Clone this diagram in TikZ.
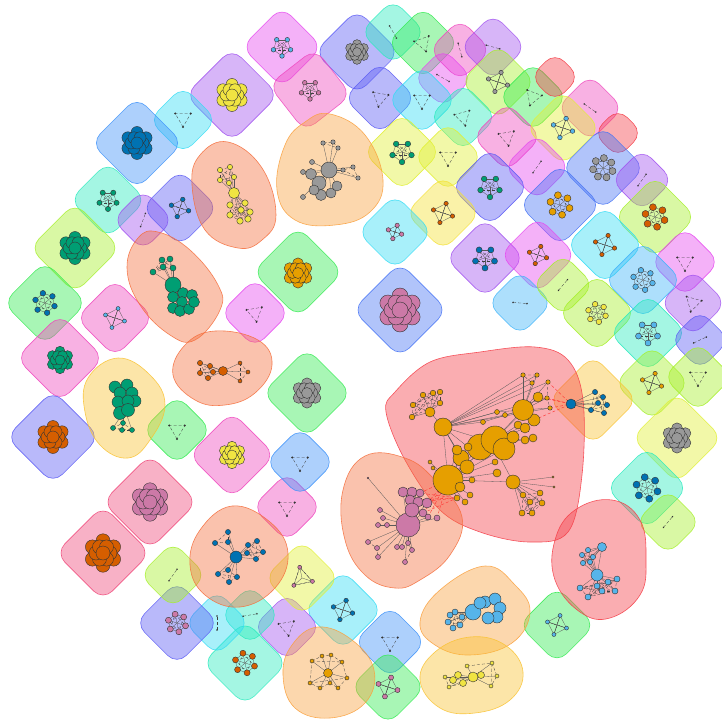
\documentclass[tikz,border=0pt]{standalone}
\usepackage{tikz}

% hull colours (saturated, drawn see-through)
\definecolor{hmag}{RGB}{230,70,240}
\definecolor{hpink}{RGB}{240,70,190}
\definecolor{hrose}{RGB}{240,70,120}
\definecolor{hpur}{RGB}{160,80,240}
\definecolor{hvio}{RGB}{90,90,245}
\definecolor{hsteel}{RGB}{70,115,245}
\definecolor{hblue}{RGB}{60,145,250}
\definecolor{hsky}{RGB}{60,180,250}
\definecolor{hcyan}{RGB}{50,220,245}
\definecolor{hteal}{RGB}{40,235,190}
\definecolor{hgreen}{RGB}{50,235,80}
\definecolor{hlime}{RGB}{165,240,40}
\definecolor{hyel}{RGB}{225,240,50}
\definecolor{hgold}{RGB}{245,225,50}
\definecolor{hamb}{RGB}{250,195,50}
\definecolor{horan}{RGB}{250,160,60}
\definecolor{hsal}{RGB}{245,110,60}
\definecolor{hred}{RGB}{245,60,70}
% vertex colours
\definecolor{cdblue}{RGB}{0,114,178}
\definecolor{cora}{RGB}{230,159,0}
\definecolor{csky}{RGB}{86,180,233}
\definecolor{cgrn}{RGB}{0,158,115}
\definecolor{cyel}{RGB}{240,228,66}
\definecolor{cver}{RGB}{213,94,0}
\definecolor{cpnk}{RGB}{204,121,167}
\definecolor{cgry}{RGB}{153,153,153}

\tikzset{
  hullbox/.style={rounded corners=13pt, fill=#1, draw=#1, fill opacity=0.42, draw opacity=0.85, line width=0.6pt, inner sep=0pt},
  hullpath/.style={fill=#1, draw=#1, fill opacity=0.42, draw opacity=0.85, line width=0.6pt},
  gvert/.style={fill=#1, draw=black!80, line width=0.4pt},
  glink/.style={black!65, line width=0.3pt},
  gedge/.style={black!75, line width=0.3pt, densely dashed},
  xedge/.style={red!80, line width=0.4pt, densely dashed},
}

% tight clump of overlapping vertices
\newcommand{\clump}[4]{%
  \begin{scope}[shift={(#1,#2)}]
    \foreach \a/\d in {30/1.75,90/1.75,150/1.75,210/1.75,270/1.75,330/1.75,0/1,60/1,120/1,180/1,240/1,300/1,0/0}
      \filldraw[gvert=#3] ({\a}:{\d*#4}) circle (#4);
  \end{scope}}
% small ring graph: x, y, colour, n, R, r
\newcommand{\gring}[6]{%
  \begin{scope}[shift={(#1,#2)}]
    \foreach \i in {1,...,#4}{
      \draw[glink] (0,0) -- ({\i*360/#4+18}:#5);
      \draw[glink] ({\i*360/#4+18}:#5) -- ({(\i+1)*360/#4+18}:#5);
      \draw[gedge] ({\i*360/#4+18}:#5) -- ({(\i+2)*360/#4+18}:#5);
    }
    \foreach \i in {1,...,#4}
      \filldraw[gvert=#3] ({\i*360/#4+18}:#5) circle (#6);
  \end{scope}}
\newcommand{\tri}[3]{%
  \begin{scope}[shift={(#1,#2)}, rotate=#3]
    \draw[gedge] (90:9) -- (210:9) -- (330:9) -- cycle;
    \foreach \a in {90,210,330} \fill[black!80] (\a:9) circle (1.1);
  \end{scope}}
\newcommand{\twig}[3]{%
  \begin{scope}[shift={(#1,#2)}, rotate=#3]
    \draw[gedge] (-7,0) -- (7,0);
    \fill[black!80] (-7,0) circle (0.9) (7,0) circle (0.9);
  \end{scope}}
\newcommand{\pts}[2]{\foreach \x/\y/\r [count=\k] in #2 \coordinate (#1\k) at (\x,\y);}
\newcommand{\verts}[2]{\foreach \x/\y/\r in #2 \filldraw[gvert=#1] (\x,\y) circle (\r);}
\newcommand{\fan}[3]{\foreach \i in {1,...,#3} \draw[glink] (#1) -- (#2\i);}
\newcommand{\mesh}[2]{\foreach \i in {1,...,#2}{\foreach \j in {\i,...,#2}{\ifnum\i<\j \draw[gedge] (#1\i) -- (#1\j);\fi}}}

\begin{document}
\begin{tikzpicture}[x=1pt,y=-1pt]
  \useasboundingbox (0,0) rectangle (721,722);
  \fill[white] (0,0) rectangle (721,722);

  % rounded square hulls
  \foreach \n/\x/\y/\sz/\col/\rot in {
    1/282/47/57/hmag/45, 2/357/52/60/hvio/45, 3/310/90/59/hpink/38, 4/232/95/66/hpur/45,
    5/183/120/48/hcyan/45, 6/137/143/65/hblue/45, 9/108/200/54/hteal/45, 10/143/220/43/hpur/45,
    11/180/208/54/hvio/45, 12/75/248/64/hlime/45, 14/298/272/64/hgreen/45, 15/45/303/59/hgreen/45,
    16/115/318/55/hpink/45, 17/255/313/49/hmag/45, 18/60/358/62/hpink/45, 19/393/32/46/hteal/45,
    20/423/43/51/hgreen/45, 21/460/50/44/hpink/45, 22/493/47/47/hpur/45, 23/443/78/42/hmag/45,
    24/380/98/51/hvio/45, 25/422/100/49/hcyan/45, 26/498/82/53/hlime/45, 27/463/117/48/hteal/45,
    28/533/97/49/hgreen/45, 29/555/77/35/hred/45, 30/590/108/47/hpink/45, 31/507/137/49/hpink/45,
    32/563/128/53/hyel/45, 33/618/133/35/hred/45, 34/402/152/55/hyel/45, 35/448/157/49/hyel/45,
    36/537/167/47/hmag/45, 37/490/187/55/hvio/45, 38/603/168/59/hsteel/45, 39/642/180/44/hpur/45,
    40/560/205/58/hsteel/45, 41/443/213/53/hgold/45, 42/655/217/58/hlime/45, 43/395/232/53/hcyan/45,
    44/485/258/56/hpur/45, 45/538/255/54/hmag/45, 46/605/245/55/hcyan/45, 47/685/262/49/hmag/45,
    48/400/310/67/hsteel/45, 49/520/303/46/hsky/45, 50/563/285/44/hlime/45, 51/597/313/55/hlime/45,
    52/643/280/55/hsky/45, 53/693/303/47/hpur/45, 54/648/333/55/hteal/45, 55/700/340/42/hvio/45,
    56/652/383/53/hlime/45, 57/698/377/49/hlime/45, 58/593/400/63/hamb/45, 59/677/438/64/hyel/45,
    60/647/488/58/hteal/45, 61/668/522/46/hlime/45, 63/557/625/54/hgreen/45, 66/390/642/51/hblue/45,
    67/388/687/53/hgreen/45, 69/343/610/56/hcyan/45, 70/287/627/48/hpur/45, 71/245/663/60/hteal/45,
    72/250/615/42/hteal/45, 73/217/623/46/hcyan/45, 74/177/623/59/hvio/45, 75/173/575/47/hlime/45,
    76/302/578/53/hyel/45, 78/103/553/67/hrose/45, 79/150/502/67/hrose/45, 80/287/507/49/hpink/45,
    81/300/462/49/hblue/45, 82/232/455/61/hpink/45, 83/177/430/49/hgreen/45, 84/53/437/66/hvio/45,
    87/307/393/63/hgreen/45}
    \node[hullbox=\col, minimum size=\sz pt, rotate=\rot] (h\n) at (\x,\y) {};

  % free-form hulls
  \draw[hullpath=hsal] plot[smooth cycle, tension=0.7] coordinates {(228,142) (262,168) (276,215) (262,240) (238,248) (205,230) (192,185) (200,155)};
  \draw[hullpath=horan] plot[smooth cycle, tension=0.7] coordinates {(330,114) (365,135) (383,180) (370,212) (335,225) (295,220) (277,190) (285,145) (305,122)};
  \draw[hullpath=hsal] plot[smooth cycle, tension=0.7] coordinates {(158,232) (190,250) (218,285) (220,310) (195,340) (170,335) (140,305) (127,268) (138,238)};
  \draw[hullpath=hamb] plot[smooth cycle, tension=0.7] coordinates {(118,358) (150,375) (165,405) (150,440) (128,458) (100,445) (85,412) (88,378)};
  \draw[hullpath=hsal] plot[smooth cycle, tension=0.7] coordinates {(215,331) (258,340) (272,365) (255,393) (225,405) (195,400) (173,375) (185,345)};
  \draw[hullpath=hsal] plot[smooth cycle, tension=0.7] coordinates {(232,506) (270,522) (288,553) (275,588) (240,607) (205,595) (190,565) (200,530)};
  \draw[hullpath=horan] plot[smooth cycle, tension=0.7] coordinates {(318,627) (352,640) (374,670) (365,703) (330,718) (295,708) (283,675) (292,645)};
  \draw[hullpath=horan] plot[smooth cycle, tension=0.7] coordinates {(485,566) (515,585) (530,612) (512,643) (470,655) (435,645) (420,622) (440,590)};
  \draw[hullpath=hamb] plot[smooth cycle, tension=0.7] coordinates {(470,637) (505,645) (523,672) (510,700) (475,713) (440,708) (420,680) (435,652)};
  \draw[hullpath=hred] plot[smooth cycle, tension=0.7] coordinates {(612,500) (640,520) (646,560) (640,595) (610,618) (580,612) (555,580) (555,540) (575,510)};
  \draw[hullpath=hred] plot[smooth cycle, tension=0.6] coordinates {(395,392) (430,362) (480,352) (535,347) (568,360) (583,400) (582,475) (568,532) (530,542) (480,532) (440,510) (405,460) (386,412)};
  \draw[hullpath=hsal] plot[smooth cycle, tension=0.7] coordinates {(365,456) (405,458) (435,480) (462,517) (450,555) (420,580) (395,588) (365,575) (345,540) (343,490)};

  % clumps, rings, triangles, pairs
  \foreach \x/\y/\col/\rr in {357/52/cgry/4.5, 232/95/cyel/6, 137/143/cdblue/6, 75/248/cgrn/6,
    298/273/cora/5.5, 60/360/cgrn/5, 400/310/cpnk/8, 677/438/cgry/5.5, 103/553/cver/7,
    150/502/cpnk/7, 232/455/cyel/5, 53/437/cver/6, 307/393/cgry/5.5}
    \clump{\x}{\y}{\col}{\rr};
  \foreach \x/\y/\col/\n/\R/\rr in {282/47/csky/5/9/2.3, 310/90/cpnk/5/9/2.3, 108/200/cgrn/5/9/2.6,
    180/208/cdblue/4/9/2.3, 45/303/cdblue/6/10/2.8, 115/318/csky/4/10/2, 498/82/cgry/4/10/2.2,
    563/128/csky/4/10/2.3, 402/152/cgrn/5/10/2.8, 490/187/cgrn/5/10/2.8, 603/168/cgry/7/10/3.5,
    560/205/cora/6/10/3.5, 443/213/cver/4/10/2.2, 655/217/cver/6/10/3.5, 395/232/cpnk/4/7/2.2,
    485/258/cdblue/5/10/3, 538/255/cver/4/9/2.2, 605/245/cver/4/10/2.2, 597/313/cyel/6/9/2.8,
    643/280/csky/6/10/2.8, 648/333/csky/5/10/3, 652/383/cora/4/10/2.2, 647/488/cdblue/6/11/3.5,
    557/625/csky/4/10/2, 388/687/cpnk/4/10/2.5, 343/610/cdblue/4/10/2.3, 245/663/cver/6/10/3,
    177/623/cpnk/6/9/3, 302/578/cpnk/3/11/2}
    \gring{\x}{\y}{\col}{\n}{\R}{\rr};
  \foreach \x/\y/\rot in {183/118/0, 255/313/10, 423/43/20, 380/98/-10, 422/100/0, 463/117/15,
    533/97/-20, 507/137/10, 448/157/0, 685/262/0, 693/303/-15, 698/377/0, 390/642/0,
    287/627/10, 287/507/0, 300/462/0, 177/430/0}
    \tri{\x}{\y}{\rot};
  \foreach \x/\y/\rot in {143/220/70, 393/32/-60, 460/50/-75, 493/47/-15, 443/78/-30, 590/108/-35,
    537/167/55, 642/180/55, 520/303/-5, 563/285/50, 700/340/25, 668/522/50, 250/615/10,
    217/623/90, 173/575/55}
    \twig{\x}{\y}{\rot};

  % yellow graph
  \def\yA{220/170/2.6, 230/167/2.6, 234/177/2.6, 220/180/2.6, 229/183/2.6}
  \def\yB{230/205/3.2, 245/203/3.2, 250/212/3.2, 230/215/3.2, 240/221/3.2, 248/219/3.2, 241/210/3.2}
  \coordinate (yh) at (234,193);
  \pts{ya}{\yA} \pts{yb}{\yB}
  \mesh{ya}{5} \mesh{yb}{7} \fan{yh}{ya}{5} \fan{yh}{yb}{7}
  \verts{cyel}{\yA} \verts{cyel}{\yB}
  \filldraw[gvert=cyel] (yh) circle (5.5);

  % grey graph
  \def\gA{319/183/7, 311/174/5.5, 321/195/5.5, 331/193/5, 337/186/5, 314/190/5}
  \def\gB{303/172/2.5, 312/162/2.5, 303/197/2.5, 323/143/2.2, 338/148/2.2, 333/142/2.2, 343/170/2.2, 358/178/2.2, 353/167/2.2}
  \coordinate (gh) at (329,170);
  \pts{ga}{\gA} \pts{gb}{\gB}
  \fan{gh}{ga}{6} \fan{gh}{gb}{9}
  \draw[gedge] (gb4) -- (gb5) -- (gb6) -- cycle;
  \draw[gedge] (gb7) -- (gb8) -- (gb9) -- cycle;
  \verts{cgry}{\gA}
  \filldraw[gvert=cgry] (gh) circle (8);
  \verts{cgry}{\gB}

  % green graph with tail
  \def\tA{153/272/3, 162/260/3, 170/259/3, 173/268/3, 163/267/3}
  \def\tB{173/297/5.5, 183/293/5.5, 192/295/5.5, 182/302/5.5, 173/308/5.5, 180/311/5.5, 189/309/5.5, 194/302/5.5}
  \coordinate (th) at (173,285);
  \pts{ta}{\tA} \pts{tb}{\tB}
  \mesh{ta}{5} \fan{th}{ta}{5} \fan{th}{tb}{8}
  \verts{cgrn}{\tA}
  \filldraw[gvert=cgrn] (th) circle (8);
  \verts{cgrn}{\tB}

  % green graph, lower left
  \def\uA{115/387/6, 127/385/6, 120/393/6, 132/393/6, 135/401/6, 118/402/6, 128/401/6, 120/413/6.5, 128/410/6.5}
  \def\uB{113/428/2.5, 122/430/2.5, 132/430/2.5, 123/423/2.5}
  \coordinate (uh) at (125,410);
  \pts{ub}{\uB}
  \mesh{ub}{4} \fan{uh}{ub}{4}
  \verts{cgrn}{\uA} \verts{cgrn}{\uB}

  % orange graph, left
  \def\rA{200/363/2.6, 210/366/2.6, 200/373/2.6, 208/378/2.6, 213/372/2.6}
  \def\rB{240/363/2, 248/372/2, 240/381/2}
  \coordinate (rh) at (223,371);
  \pts{ra}{\rA} \pts{rb}{\rB}
  \mesh{ra}{5} \mesh{rb}{3} \fan{rh}{ra}{5} \fan{rh}{rb}{3}
  \verts{cver}{\rA} \verts{cver}{\rB}
  \filldraw[gvert=cver] (rh) circle (4.5);

  % blue hub graph
  \def\wA{215/543/2.6, 228/532/2.6, 228/542/2.6}
  \def\wB{248/545/2.6, 257/541/2.6, 263/552/2.6, 256/559/2.6, 247/553/2.6}
  \def\wC{218/574/2.6, 228/570/2.6, 237/577/2.6, 229/582/2.6}
  \coordinate (wh) at (236,557);
  \pts{wa}{\wA} \pts{wb}{\wB} \pts{wc}{\wC}
  \mesh{wa}{3} \mesh{wb}{5} \mesh{wc}{4}
  \fan{wh}{wa}{3} \fan{wh}{wb}{5} \fan{wh}{wc}{4}
  \verts{cdblue}{\wA} \verts{cdblue}{\wB} \verts{cdblue}{\wC}
  \filldraw[gvert=cdblue] (wh) circle (6);

  % orange star, bottom
  \def\qA{312/661/2, 322/656/2, 331/655/2, 342/662/2, 310/683/2, 320/688/2, 330/683/2, 338/688/2, 347/678/2}
  \coordinate (qh) at (328,673);
  \pts{qa}{\qA}
  \fan{qh}{qa}{9}
  \draw[gedge] (qa1) -- (qa2) -- (qa3) -- (qa4) -- (qa9) -- (qa8) -- (qa7) -- (qa6) -- (qa5) -- cycle;
  \draw[gedge] (qa1) -- (qa4) (qa5) -- (qa9);
  \verts{cora}{\qA}
  \filldraw[gvert=cora] (qh) circle (4.5);

  % sky blue clump graph
  \def\kA{485/602/6, 495/599/6, 500/608/6, 497/617/6, 488/618/6, 480/603/6}
  \def\kB{455/612/3, 450/615/3, 448/622/3, 453/628/3, 460/625/3, 462/617/3}
  \coordinate (kh) at (473,612);
  \pts{kb}{\kB}
  \mesh{kb}{6} \fan{kh}{kb}{6}
  \verts{csky}{\kB}
  \filldraw[gvert=csky] (kh) circle (8);
  \verts{csky}{\kA}

  % yellow graph, bottom
  \def\mA{458/675/3.5, 463/683/3.5, 481/675/3.5, 453/680/3.5}
  \def\mB{445/677/2, 449/687/2, 467/666/2, 492/663/2, 497/676/2, 491/686/2}
  \coordinate (mh) at (473,677);
  \pts{ma}{\mA} \pts{mb}{\mB}
  \fan{mh}{ma}{4} \fan{mh}{mb}{6}
  \draw[gedge] (mb1) -- (mb2) -- (ma2) (mb4) -- (mb5) -- (mb6) -- cycle (mb3) -- (mb4);
  \verts{cyel}{\mA} \verts{cyel}{\mB}
  \filldraw[gvert=cyel] (mh) circle (5);

  % sky blue graph, right
  \def\nA{582/555/2.6, 588/550/2.6, 583/563/2.6, 590/562/2.6, 593/557/2.6}
  \def\nB{597/586/3, 602/591/3, 608/582/3, 615/591/3, 617/579/3, 580/588/3, 588/597/3}
  \coordinate (nh1) at (602,547);
  \coordinate (nh2) at (597,575);
  \pts{na}{\nA} \pts{nb}{\nB}
  \draw[glink] (nh1) -- (nh2);
  \mesh{na}{5} \mesh{nb}{7} \fan{nh1}{na}{5} \fan{nh2}{nb}{7} \fan{nh2}{na}{5}
  \verts{csky}{\nA} \verts{csky}{\nB}
  \filldraw[gvert=csky] (nh1) circle (4.5);
  \filldraw[gvert=csky] (nh2) circle (6);

  % blue graph joined to the big one
  \def\sA{595/392/2.6, 603/397/2.6, 598/403/2.6, 607/405/2.6, 604/413/2.6, 591/410/2.6}
  \coordinate (bhub) at (571,404);
  \pts{sa}{\sA}
  \mesh{sa}{6} \fan{bhub}{sa}{6}

  % big orange graph
  \def\oSa{461/458/8, 467/467/7, 457/450/5, 468/447/4, 460/487/5, 470/495/3, 465/502/3, 457/498/3, 472/480/3, 497/473/4, 495/462/3, 433/468/2, 430/462/2}
  \def\oSf{423/395/2.8, 433/393/2.8, 440/392/2.8, 440/403/2.8, 413/405/2.8, 412/417/2.8}
  \def\oSd{523/375/2.2, 537/375/2.2, 532/383/2.2, 548/382/2.2, 547/398/2.2, 550/408/2.2, 497/412/2.5, 505/415/2.5, 483/422/2.5}
  \def\oSm{480/447/13, 495/440/14, 504/449/11, 513/437/6, 518/425/4, 525/428/5, 525/440/4, 533/438/4, 534/420/6, 538/397/5}
  \def\oSe{523/495/3, 530/502/3, 540/493/3, 542/503/3, 522/513/3, 532/513/3, 553/477/1.2, 554/487/1.2}
  \coordinate (oa) at (448,480);
  \coordinate (ob) at (492,442);
  \coordinate (oc) at (443,427);
  \coordinate (od) at (523,410);
  \coordinate (oe) at (513,482);
  \coordinate (of) at (430,412);
  \pts{osa}{\oSa} \pts{osf}{\oSf} \pts{osd}{\oSd} \pts{osm}{\oSm} \pts{ose}{\oSe}

  % pink graph
  \def\pSa{403/492/5, 412/492/5, 420/493/4, 410/500/5, 418/502/5, 427/503/5, 412/510/7, 423/513/4, 428/517/3, 437/518/3}
  \def\pSb{380/510/2.5, 383/518/2.5, 387/525/2.5, 378/525/2.5, 368/542/2.5, 377/548/2.5, 378/557/2.5, 397/547/2.5, 402/547/2.5, 408/543/2.5, 412/550/2.5, 405/562/2.5, 368/478/0.8}
  \coordinate (pa) at (408,525);
  \pts{psa}{\pSa} \pts{psb}{\pSb}

  % links between the two big graphs and the blue one
  \foreach \i in {3,6,8,9,10} \draw[xedge] (psa\i) -- (oa);
  \foreach \i in {2,4,5,8} \draw[xedge] (psa\i) -- (osa8);
  \foreach \i in {4,5,6} \draw[xedge] (osd\i) -- (bhub);
  \foreach \i in {9,10} \draw[xedge] (osm\i) -- (bhub);

  \draw[glink] (oa) -- (ob) (oa) -- (oc) (oa) -- (oe) (ob) -- (od) (ob) -- (oe) (oc) -- (of) (oc) -- (ob);
  \fan{oa}{osa}{13} \fan{of}{osf}{6} \fan{od}{osd}{9} \fan{ob}{osm}{10} \fan{oe}{ose}{8}
  \fan{oc}{osa}{4} \fan{oa}{osm}{3} \fan{oc}{osd}{9}
  \mesh{osf}{6} \mesh{ose}{6}
  \draw[gedge] (osd1) -- (osd2) -- (osd3) -- cycle (osd4) -- (osd5) -- (osd6);
  \fan{pa}{psa}{10} \fan{pa}{psb}{13}
  \mesh{psa}{5}
  \draw[gedge] (psb5) -- (psb6) -- (psb7) (psb8) -- (psb9) -- (psb10) -- (psb11) -- (psb12);

  \verts{cdblue}{\sA}
  \filldraw[gvert=cdblue] (bhub) circle (5);
  \verts{cpnk}{\pSb}
  \filldraw[gvert=cpnk] (pa) circle (12);
  \verts{cpnk}{\pSa}
  \verts{cora}{\oSm}
  \filldraw[gvert=cora] (oa) circle (15);
  \filldraw[gvert=cora] (oc) circle (9);
  \filldraw[gvert=cora] (od) circle (10.5);
  \filldraw[gvert=cora] (oe) circle (7);
  \filldraw[gvert=cora] (of) circle (5);
  \verts{cora}{\oSa} \verts{cora}{\oSf} \verts{cora}{\oSd} \verts{cora}{\oSe}
\end{tikzpicture}
\end{document}
